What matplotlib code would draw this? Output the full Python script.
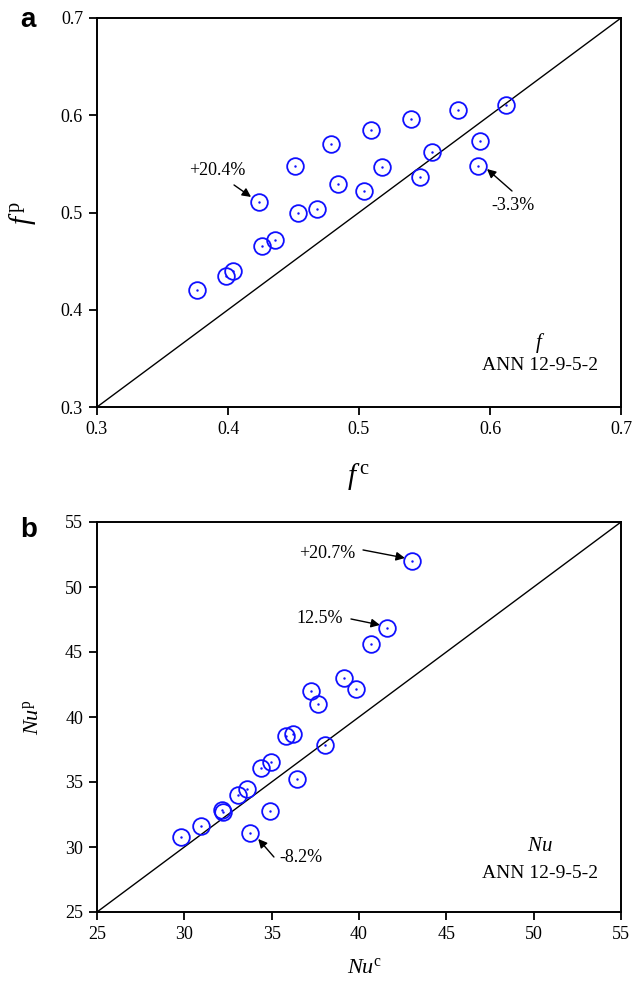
import matplotlib
matplotlib.use("Agg")
import matplotlib.pyplot as plt

plt.rcParams['font.family'] = ['Liberation Serif', 'DejaVu Serif']
plt.rcParams['mathtext.fontset'] = 'custom'
plt.rcParams['mathtext.rm'] = 'Liberation Serif'
plt.rcParams['mathtext.it'] = 'Liberation Serif:italic'

# panel a: friction factor, computed vs predicted
f_c = [0.376, 0.3985, 0.4038, 0.4256, 0.436, 0.4237, 0.4514, 0.4534, 0.4679, 0.479, 0.484,
       0.504, 0.509, 0.5176, 0.540, 0.556, 0.5466, 0.5758, 0.5924, 0.591, 0.612]
f_p = [0.420, 0.435, 0.440, 0.466, 0.472, 0.511, 0.548, 0.500, 0.504, 0.570, 0.529,
       0.522, 0.585, 0.547, 0.596, 0.562, 0.537, 0.605, 0.574, 0.548, 0.611]

# panel b: Nusselt number, computed vs predicted
nu_c = [43.05, 41.6, 40.68, 39.14, 39.85, 37.27, 37.67, 35.82, 36.24, 38.05, 34.41,
        34.94, 36.45, 33.05, 33.56, 32.13, 32.19, 34.92, 30.94, 29.83, 33.74]
nu_p = [51.98, 46.85, 45.64, 43.02, 42.18, 42.0, 40.98, 38.54, 38.69, 37.87, 36.10,
        36.54, 35.23, 34.02, 34.44, 32.85, 32.69, 32.77, 31.62, 30.77, 31.05]

f_ticks = [0.3, 0.4, 0.5, 0.6, 0.7]
nu_ticks = [25, 30, 35, 40, 45, 50, 55]

fig = plt.figure(figsize=(6.42, 9.82), dpi=100)
ax1 = fig.add_axes([97/642, 1-407/982, 524/642, 389/982])
ax2 = fig.add_axes([97/642, 1-912/982, 524/642, 390/982])


def style(ax, ticks, fmt):
    lo, hi = ticks[0], ticks[-1]
    ax.plot([lo, hi], [lo, hi], color='k', lw=1.0, zorder=1)
    ax.set_xlim(lo, hi)
    ax.set_ylim(lo, hi)
    ax.set_xticks(ticks)
    ax.set_yticks(ticks)
    ax.set_xticklabels([fmt(t) for t in ticks])
    ax.set_yticklabels([fmt(t) for t in ticks])
    ax.tick_params(direction='out', length=6, width=1.3, labelsize=13, pad=4)
    for s in ax.spines.values():
        s.set_linewidth(1.4)


def points(ax, x, y):
    ax.plot(x, y, 'o', ms=12, mfc='none', mec='#1010ff', mew=1.3, zorder=3)
    ax.plot(x, y, '.', ms=1.5, color='#1010ff', zorder=4)


def note(ax, txt, tx, ty, tail, head):
    ax.text(tx, ty, txt, ha='center', va='center', fontsize=13)
    ax.annotate('', xy=head, xytext=tail,
                arrowprops=dict(arrowstyle='-|>', color='k', lw=1.0, mutation_scale=13,
                                shrinkA=0, shrinkB=0))


# --- a ---
style(ax1, f_ticks, lambda t: f"{t:.1f}")
points(ax1, f_c, f_p)
note(ax1, '+20.4%', 0.3916, 0.5427, (0.4046, 0.5283), (0.4176, 0.516))
note(ax1, '-3.3%', 0.6176, 0.5067, (0.6168, 0.5221), (0.5977, 0.5447))
ax1.text(0.845, 0.165, '$f$', transform=ax1.transAxes, ha='center', va='center', fontsize=15)
ax1.text(0.845, 0.107, 'ANN 12-9-5-2', transform=ax1.transAxes, ha='center', va='center', fontsize=14)
ax1.set_xlabel('$f^{\\,\\mathrm{c}}$', fontsize=21)
ax1.set_ylabel('$f^{\\,\\mathrm{p}}$', fontsize=21)
ax1.xaxis.set_label_coords(0.5, -0.14)
ax1.yaxis.set_label_coords(-0.113, 0.5)

# --- b ---
style(ax2, nu_ticks, lambda t: f"{t:d}")
points(ax2, nu_c, nu_p)
note(ax2, '+20.7%', 38.17, 52.54, (40.23, 52.85), (42.63, 52.23))
note(ax2, '12.5%', 37.77, 47.54, (39.54, 47.54), (41.2, 47.08))
note(ax2, '-8.2%', 36.68, 29.23, (35.13, 29.23), (34.23, 30.62))
ax2.text(0.845, 0.167, '$Nu$', transform=ax2.transAxes, ha='center', va='center', fontsize=15)
ax2.text(0.845, 0.1, 'ANN 12-9-5-2', transform=ax2.transAxes, ha='center', va='center', fontsize=14)
ax2.set_xlabel('$Nu^{\\mathrm{c}}$', fontsize=16)
ax2.set_ylabel('$Nu^{\\mathrm{p}}$', fontsize=16)
ax2.xaxis.set_label_coords(0.51, -0.118)
ax2.yaxis.set_label_coords(-0.103, 0.5)

fig.text(20/642, 1-27/982, 'a', fontsize=20, fontweight='bold', family='Liberation Sans')
fig.text(20/642, 1-537/982, 'b', fontsize=20, fontweight='bold', family='Liberation Sans')

fig.savefig('out.png', dpi=100)
